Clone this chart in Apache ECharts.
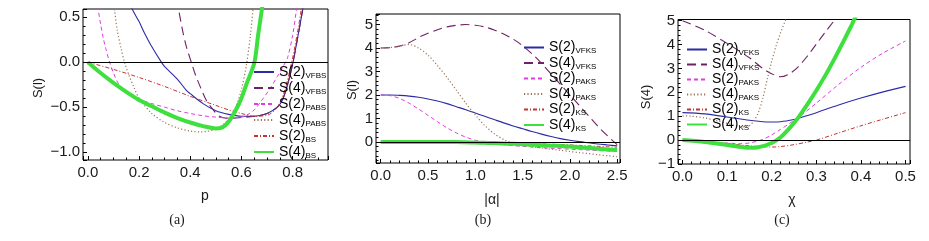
<!DOCTYPE html>
<html><head><meta charset="utf-8">
<script src="https://cdn.jsdelivr.net/npm/echarts@6/dist/echarts.min.js"></script>
<style>html,body{margin:0;padding:0;background:#fff}#c{width:929px;height:241px}</style>
</head><body><div id="c"></div>
<script>
// ---------- Panel (a): x = p ----------
const A_vf2_x = [0.16,0.173,0.2,0.22,0.25,0.287,0.3,0.35,0.384,0.4,0.45,0.5,0.55,0.6,0.65,0.7,0.74,0.76,0.78,0.8,0.82,0.84,0.85];
const A_vf2_y = [0.7,0.59,0.45,0.33,0.17,0,-0.05,-0.19,-0.31,-0.35,-0.46,-0.54,-0.58,-0.6,-0.6,-0.57,-0.5,-0.42,-0.25,-0.02,0.28,0.6,0.8];
const A_vf4_x = [0.345,0.354,0.37,0.385,0.404,0.42,0.44,0.462,0.49,0.514,0.55,0.6,0.65,0.7,0.74,0.76,0.78,0.8,0.82,0.84,0.85];
const A_vf4_y = [0.7,0.59,0.35,0.17,0,-0.14,-0.28,-0.42,-0.53,-0.6,-0.625,-0.615,-0.6,-0.57,-0.5,-0.42,-0.25,-0.02,0.28,0.6,0.8];
const A_pa2_x = [0.035,0.04,0.05,0.06,0.07,0.085,0.1,0.12,0.15,0.2,0.25,0.3,0.35,0.4,0.45,0.5,0.55,0.6,0.62,0.65,0.68,0.71,0.74,0.76,0.78,0.8,0.815,0.82];
const A_pa2_y = [0.7,0.59,0.42,0.27,0.15,0,-0.12,-0.24,-0.33,-0.41,-0.46,-0.5,-0.54,-0.57,-0.595,-0.61,-0.62,-0.61,-0.59,-0.53,-0.42,-0.3,-0.16,-0.06,0.05,0.3,0.59,0.7];
const A_pa4_x = [0.1,0.104,0.115,0.13,0.143,0.16,0.18,0.2,0.25,0.3,0.35,0.4,0.44,0.48,0.52,0.55,0.58,0.6,0.62,0.635,0.645,0.65];
const A_pa4_y = [0.7,0.59,0.35,0.15,0,-0.14,-0.28,-0.4,-0.57,-0.67,-0.73,-0.765,-0.775,-0.76,-0.71,-0.63,-0.48,-0.3,-0.02,0.3,0.59,0.75];
const A_bs2_x = [0,0.1,0.2,0.3,0.4,0.5,0.55,0.6,0.65,0.7,0.74,0.77,0.8,0.82,0.84];
const A_bs2_y = [0,-0.08,-0.17,-0.27,-0.38,-0.48,-0.53,-0.57,-0.6,-0.59,-0.5,-0.3,0.05,0.35,0.7];
const A_bs4_x = [0,0.05,0.1,0.15,0.2,0.25,0.3,0.35,0.4,0.45,0.5,0.52,0.55,0.58,0.6,0.62,0.65,0.665,0.68,0.685];
const A_bs4_y = [0,-0.12,-0.23,-0.33,-0.42,-0.49,-0.56,-0.62,-0.67,-0.71,-0.735,-0.73,-0.66,-0.52,-0.4,-0.24,-0.01,0.3,0.59,0.7];
const A_names = ['S(2)VFBS','S(4)VFBS','S(2)PABS','S(4)PABS','S(2)BS','S(4)BS'];

// ---------- Panel (b): x = |alpha| ----------
const B_x = [0,0.1,0.2,0.3,0.4,0.5,0.6,0.7,0.8,0.9,1.0,1.1,1.2,1.3,1.4,1.5,1.6,1.7,1.8,1.9,2.0,2.1,2.2,2.3,2.4,2.5];
const B_vf2 = [2.0,2.0,1.98,1.95,1.9,1.83,1.74,1.63,1.5,1.37,1.23,1.09,0.95,0.81,0.68,0.56,0.44,0.33,0.23,0.14,0.07,0.01,-0.04,-0.09,-0.13,-0.17];
const B_vf4 = [4.0,4.02,4.08,4.22,4.45,4.63,4.78,4.9,4.97,5.0,4.97,4.9,4.77,4.6,4.38,4.1,3.75,3.35,2.9,2.45,2.0,1.55,1.1,0.65,0.25,-0.12];
const B_pa2 = [2.0,1.97,1.85,1.65,1.4,1.13,0.86,0.6,0.38,0.2,0.07,-0.02,-0.08,-0.12,-0.16,-0.19,-0.22,-0.25,-0.27,-0.29,-0.31,-0.33,-0.35,-0.37,-0.39,-0.41];
const B_pa4 = [4.0,4.02,4.08,4.15,4.0,3.7,3.25,2.75,2.2,1.65,1.15,0.7,0.35,0.1,-0.05,-0.13,-0.2,-0.26,-0.31,-0.36,-0.41,-0.46,-0.5,-0.55,-0.59,-0.63];
const B_ks2 = [0,0,0,0,0,0,0,0,-0.01,-0.01,-0.02,-0.02,-0.03,-0.04,-0.05,-0.06,-0.07,-0.08,-0.1,-0.11,-0.13,-0.15,-0.17,-0.19,-0.21,-0.23];
const B_ks4 = [0,0,0,0,0,0,0,-0.01,-0.01,-0.02,-0.03,-0.04,-0.05,-0.07,-0.08,-0.1,-0.12,-0.14,-0.16,-0.18,-0.2,-0.23,-0.26,-0.29,-0.32,-0.35];
const K_names = ['S(2)VFKS','S(4)VFKS','S(2)PAKS','S(4)PAKS','S(2)KS','S(4)KS'];

// ---------- Panel (c): x = chi ----------
const C_vf2_x = [0,0.05,0.1,0.15,0.18,0.2,0.22,0.25,0.26,0.3,0.35,0.4,0.45,0.5];
const C_vf2_y = [1.15,1.1,0.97,0.83,0.77,0.76,0.77,0.86,0.92,1.15,1.47,1.76,2.02,2.25];
const C_vf4_x = [0,0.05,0.1,0.15,0.18,0.2,0.22,0.24,0.26,0.28,0.3,0.32,0.34,0.35];
const C_vf4_y = [5.0,4.6,4.05,3.45,3.0,2.78,2.65,2.78,3.08,3.52,4.02,4.52,5.0,5.25];
const C_pa2_x = [0,0.05,0.1,0.13,0.15,0.18,0.2,0.22,0.24,0.26,0.3,0.35,0.4,0.45,0.5];
const C_pa2_y = [0,-0.05,-0.12,-0.15,-0.12,0.03,0.22,0.45,0.7,0.95,1.55,2.33,3.05,3.65,4.15];
const C_pa4_x = [0,0.02,0.05,0.08,0.1,0.12,0.14,0.15,0.16,0.17,0.18,0.19,0.2,0.21,0.22,0.23,0.24];
const C_pa4_y = [1.02,1.0,0.93,0.8,0.7,0.6,0.55,0.6,0.8,1.15,1.75,2.55,3.3,3.95,4.5,4.98,5.4];
const C_ks2_x = [0,0.05,0.1,0.15,0.2,0.22,0.25,0.28,0.3,0.35,0.4,0.45,0.5];
const C_ks2_y = [0,-0.05,-0.14,-0.24,-0.29,-0.27,-0.19,-0.08,0.0,0.3,0.6,0.88,1.15];
const C_ks4_x = [0,0.05,0.1,0.15,0.17,0.2,0.22,0.24,0.26,0.28,0.3,0.32,0.34,0.36,0.38,0.39];
const C_ks4_y = [0,-0.08,-0.2,-0.32,-0.3,-0.12,0.12,0.5,0.95,1.5,2.08,2.7,3.38,4.1,4.85,5.25];

// ---------- build ----------
const zip = (xs, ys) => xs.map((x, i) => [x, ys[i]]);
const STY = [
  {color:'#2b2ba8', width:1.1, type:'solid'},
  {color:'#6e2266', width:1.1, type:[9,5]},
  {color:'#e03ee0', width:1, type:[4,3]},
  {color:'#9a7656', width:1.2, type:[1.2,2.2]},
  {color:'#c83232', width:1, type:[4,2,1,2]},
  {color:'#3ee03e', width:4, type:'solid'}
];
const zeroLine = {silent:true, symbol:'none', label:{show:false}, animation:false,
  lineStyle:{color:'#000', width:1, type:'solid'}, data:[{yAxis:0}]};
function mk(name, gi, data, k) {
  const s = {type:'line', name, xAxisIndex:gi, yAxisIndex:gi, data, symbol:'none', smooth:0.3,
    color:STY[k].color, lineStyle:{color:STY[k].color, width:STY[k].width, type:STY[k].type}, z: k===5?3:2, clip:true};
  if (k === 0) s.markLine = zeroLine;
  return s;
}
const series = [
  mk(A_names[0],0,zip(A_vf2_x,A_vf2_y),0), mk(A_names[1],0,zip(A_vf4_x,A_vf4_y),1),
  mk(A_names[2],0,zip(A_pa2_x,A_pa2_y),2), mk(A_names[3],0,zip(A_pa4_x,A_pa4_y),3),
  mk(A_names[4],0,zip(A_bs2_x,A_bs2_y),4), mk(A_names[5],0,zip(A_bs4_x,A_bs4_y),5),
  mk(K_names[0],1,zip(B_x,B_vf2),0), mk(K_names[1],1,zip(B_x,B_vf4),1),
  mk(K_names[2],1,zip(B_x,B_pa2),2), mk(K_names[3],1,zip(B_x,B_pa4),3),
  mk(K_names[4],1,zip(B_x,B_ks2),4), mk(K_names[5],1,zip(B_x,B_ks4),5),
  mk(K_names[0],2,zip(C_vf2_x,C_vf2_y),0), mk(K_names[1],2,zip(C_vf4_x,C_vf4_y),1),
  mk(K_names[2],2,zip(C_pa2_x,C_pa2_y),2), mk(K_names[3],2,zip(C_pa4_x,C_pa4_y),3),
  mk(K_names[4],2,zip(C_ks2_x,C_ks2_y),4), mk(K_names[5],2,zip(C_ks4_x,C_ks4_y),5)
];
const FONT = 'Liberation Sans, Arial, sans-serif';
function ax(gi, min, max, step, minorSplit, dec, showMin, showMax) {
  return {type:'value', gridIndex:gi, min, max, minInterval:step, maxInterval:step, splitNumber:5,
    axisLine:{show:false, onZero:false},
    axisTick:{show:true, inside:true, length:4, lineStyle:{color:'#000', width:1}},
    minorTick:{show:true, splitNumber:minorSplit, length:2.5, lineStyle:{color:'#000', width:1}},
    splitLine:{show:false}, minorSplitLine:{show:false},
    axisLabel:{show:true, showMinLabel:showMin, showMaxLabel:showMax, color:'#1a1a1a', fontFamily:FONT, fontSize:15, margin:3,
      formatter: v => v.toFixed(dec).replace('-', '\u2212')}
  };
}
const xAxis = [
  ax(0,-0.019,0.938,0.2,4,1,false,false),
  ax(1,-0.05,2.53,0.5,5,1,false,false),
  ax(2,-0.01,0.51,0.1,5,1,false,false)
];
const yAxis = [
  ax(0,-1.086,0.59,0.5,5,1,false,false),
  ax(1,-0.9,5.45,1,5,0,false,false),
  ax(2,-1,5.05,1,5,0,true,false)
];
xAxis.forEach(a => a.axisLabel.margin = 5);
const grid = [
  {left:83, top:9, width:245, height:151, show:true, borderColor:'#000', borderWidth:1, backgroundColor:'transparent'},
  {left:376, top:14, width:244, height:149, show:true, borderColor:'#000', borderWidth:1, backgroundColor:'transparent'},
  {left:678, top:19.5, width:232, height:144.5, show:true, borderColor:'#000', borderWidth:1, backgroundColor:'transparent'}
];
const rich = {m:{fontSize:14, fontFamily:FONT, color:'#000', lineHeight:15},
              s:{fontSize:8, fontFamily:FONT, color:'#000', lineHeight:15, verticalAlign:'bottom', padding:[4,0,0,0]}};
const fmt = n => n.replace(/^(S\(\d\))(.*)$/, '{m|$1}{s|$2}');
function lg(names, left, top, gap) {
  return {show:true, orient:'vertical', left, top, data:names, itemWidth:20, itemHeight:14, itemGap:gap,
    selectedMode:false, padding:0, formatter:fmt, itemStyle:{opacity:0, borderWidth:0},
    textStyle:{rich, fontFamily:FONT, fontSize:14, color:'#000'}};
}
const legend = [lg(A_names,253,65,1.5), lg(K_names,523,40.5,1), lg(K_names,686,42.5,0.5)];
const txt = (x, y, text, opt) => Object.assign({type:'text', x, y,
  style:Object.assign({text, fill:'#1a1a1a', font:'13px ' + FONT, align:'center', verticalAlign:'middle'}, opt && opt.style || {})},
  opt && opt.extra || {});
const graphic = [
  txt(38, 88, 'S(l)', {extra:{rotation:Math.PI/2}}),
  txt(352, 90, 'S(l)', {extra:{rotation:Math.PI/2}}),
  txt(646, 97, 'S(4)', {extra:{rotation:Math.PI/2}}),
  txt(205, 196, 'p', {style:{font:'14px ' + FONT}}),
  txt(492, 200, '|\u03b1|', {style:{font:'14px ' + FONT}}),
  txt(792, 200, '\u03c7', {style:{font:'14px ' + FONT}}),
  txt(177, 220, '(a)', {style:{font:'14px Liberation Serif, serif'}}),
  txt(483, 220, '(b)', {style:{font:'14px Liberation Serif, serif'}}),
  txt(782, 220, '(c)', {style:{font:'14px Liberation Serif, serif'}})
];
const chart = echarts.init(document.getElementById('c'), null, {renderer:'canvas'});
chart.setOption({animation:false, backgroundColor:'#fff', grid, xAxis, yAxis, series, legend, graphic});
</script></body></html>
